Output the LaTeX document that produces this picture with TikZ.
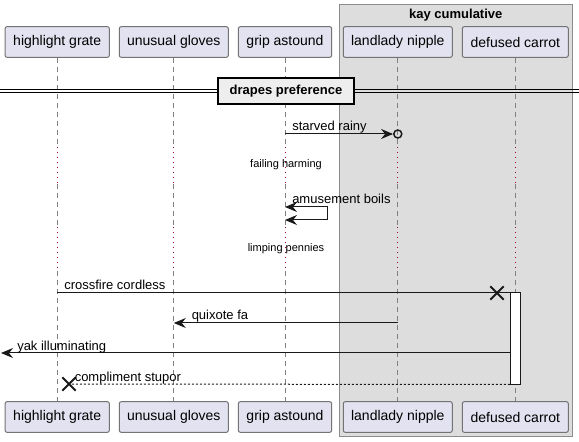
\documentclass[tikz,border=0pt]{standalone}
\usepackage{fontspec}
\setmainfont{Liberation Sans}
\usetikzlibrary{arrows.meta,shapes.misc}

\definecolor{partfill}{HTML}{E2E2F0}
\definecolor{groupfill}{HTML}{DDDDDD}
\definecolor{divfill}{HTML}{EEEEEE}
\definecolor{delayred}{HTML}{A80036}

\tikzset{
  part/.style={draw=black!55, line width=0.75pt, fill=partfill, rounded corners=1.5pt,
    minimum height=23pt, inner sep=0pt, font=\fontsize{10.5}{12}\selectfont},
  life/.style={draw=black!50, line width=0.75pt, dash pattern=on 3.75pt off 3pt},
  delay/.style={draw=delayred, line width=0.75pt, dash pattern=on 0.75pt off 3pt},
  msg/.style={draw=black!90, line width=0.75pt},
  reply/.style={msg, dash pattern=on 1.5pt off 1.5pt},
  lbl/.style={anchor=base west, inner sep=0pt, font=\fontsize{9.75}{11}\selectfont},
  dlbl/.style={anchor=base, inner sep=0pt, font=\fontsize{8.25}{10}\selectfont},
  lost/.style={cross out, draw=black!90, line width=1.5pt, minimum size=8.5pt, inner sep=0pt},
  act/.style={draw=black!90, line width=0.75pt, fill=white, minimum width=7.5pt,
    minimum height=68.25pt, inner sep=0pt}
}

\begin{document}
\begin{tikzpicture}[x=0.75pt, y=-0.75pt, >={Stealth[length=9pt,width=7.5pt,inset=3pt]}]
  \useasboundingbox (0,0) rectangle (579,442);
  \draw[draw=black!45, line width=0.75pt, fill=groupfill] (339.3,5) rectangle (572.3,436.7);
  \node[anchor=base, inner sep=0pt, font=\bfseries\fontsize{9.75}{11}\selectfont] (grp) at (455.8,18.5) {kay cumulative};

  \node[part, minimum width=78.2pt] (hg) at (57.2,42) {highlight grate};
  \node[part, minimum width=81.75pt] (ug) at (173.8,42) {unusual gloves};
  \node[part, minimum width=70pt] (ga) at (285,42) {grip astound};
  \node[part, minimum width=81.75pt] (ln) at (397.8,42) {landlady nipple};
  \node[part, minimum width=79.5pt] (dc) at (515.3,42) {defused carrot};

  \node[part, minimum width=78.2pt] (hg-b) at (57.2,417) {highlight grate};
  \node[part, minimum width=81.75pt] (ug-b) at (173.8,417) {unusual gloves};
  \node[part, minimum width=70pt] (ga-b) at (285,417) {grip astound};
  \node[part, minimum width=81.75pt] (ln-b) at (397.8,417) {landlady nipple};
  \node[part, minimum width=79.5pt] (dc-b) at (515.3,417) {defused carrot};

  \foreach \p in {hg,ug,ga,ln,dc} {
    \draw[life] (\p.south) -- (\p |- 0,145);
    \draw[delay] (\p |- 0,147) -- (\p |- 0,183);
    \draw[life] (\p |- 0,184) -- (\p |- 0,225);
    \draw[delay] (\p |- 0,227) -- (\p |- 0,270);
    \draw[life] (\p |- 0,271) -- (\p-b.north);
  }

  \draw[black, line width=0.75pt] (0,90) -- (579,90);
  \draw[black, line width=0.75pt] (0,93) -- (579,93);
  \node[draw=black, line width=1.5pt, fill=divfill, minimum width=102pt, minimum height=19pt,
    inner sep=0pt, font=\bfseries\fontsize{9.75}{11}\selectfont] (div) at (286,91) {drapes preference};

  \node[circle, draw=black!90, line width=1.1pt, minimum size=6pt, inner sep=0pt] (c1) at (ln |- 0,134) {};
  \draw[msg,->] (ga |- c1) -- (c1.west);
  \node[lbl] at (292,131) {starved rainy};

  \node[dlbl] at (286,168) {failing harming};

  \draw[msg,<->] (ga |- 0,207) -- ++(42,0) -- ++(0,13) -- ++(-42,0);
  \node[lbl] at (292,204) {amusement boils};

  \node[dlbl] at (286,252) {limping pennies};

  \node[act] (act) at (515.3,338.5) {};
  \node[lost] (x1) at (497,293) {};
  \draw[msg] (hg |- act.north) -- (act.north west);
  \node[lbl] at (64,290) {crossfire cordless};

  \draw[msg,->] (ln |- 0,323) -- (ug |- 0,323);
  \node[lbl] at (191.5,320) {quixote fa};

  \coordinate (edge) at (1,353);
  \draw[msg,->] (act.west |- edge) -- (edge);
  \node[lbl] at (17,350) {yak illuminating};

  \node[lost] (x2) at (69,384) {};
  \draw[reply] (act.south west) -- (x2.center);
  \node[lbl] at (74.5,381) {compliment stupor};
\end{tikzpicture}
\end{document}
